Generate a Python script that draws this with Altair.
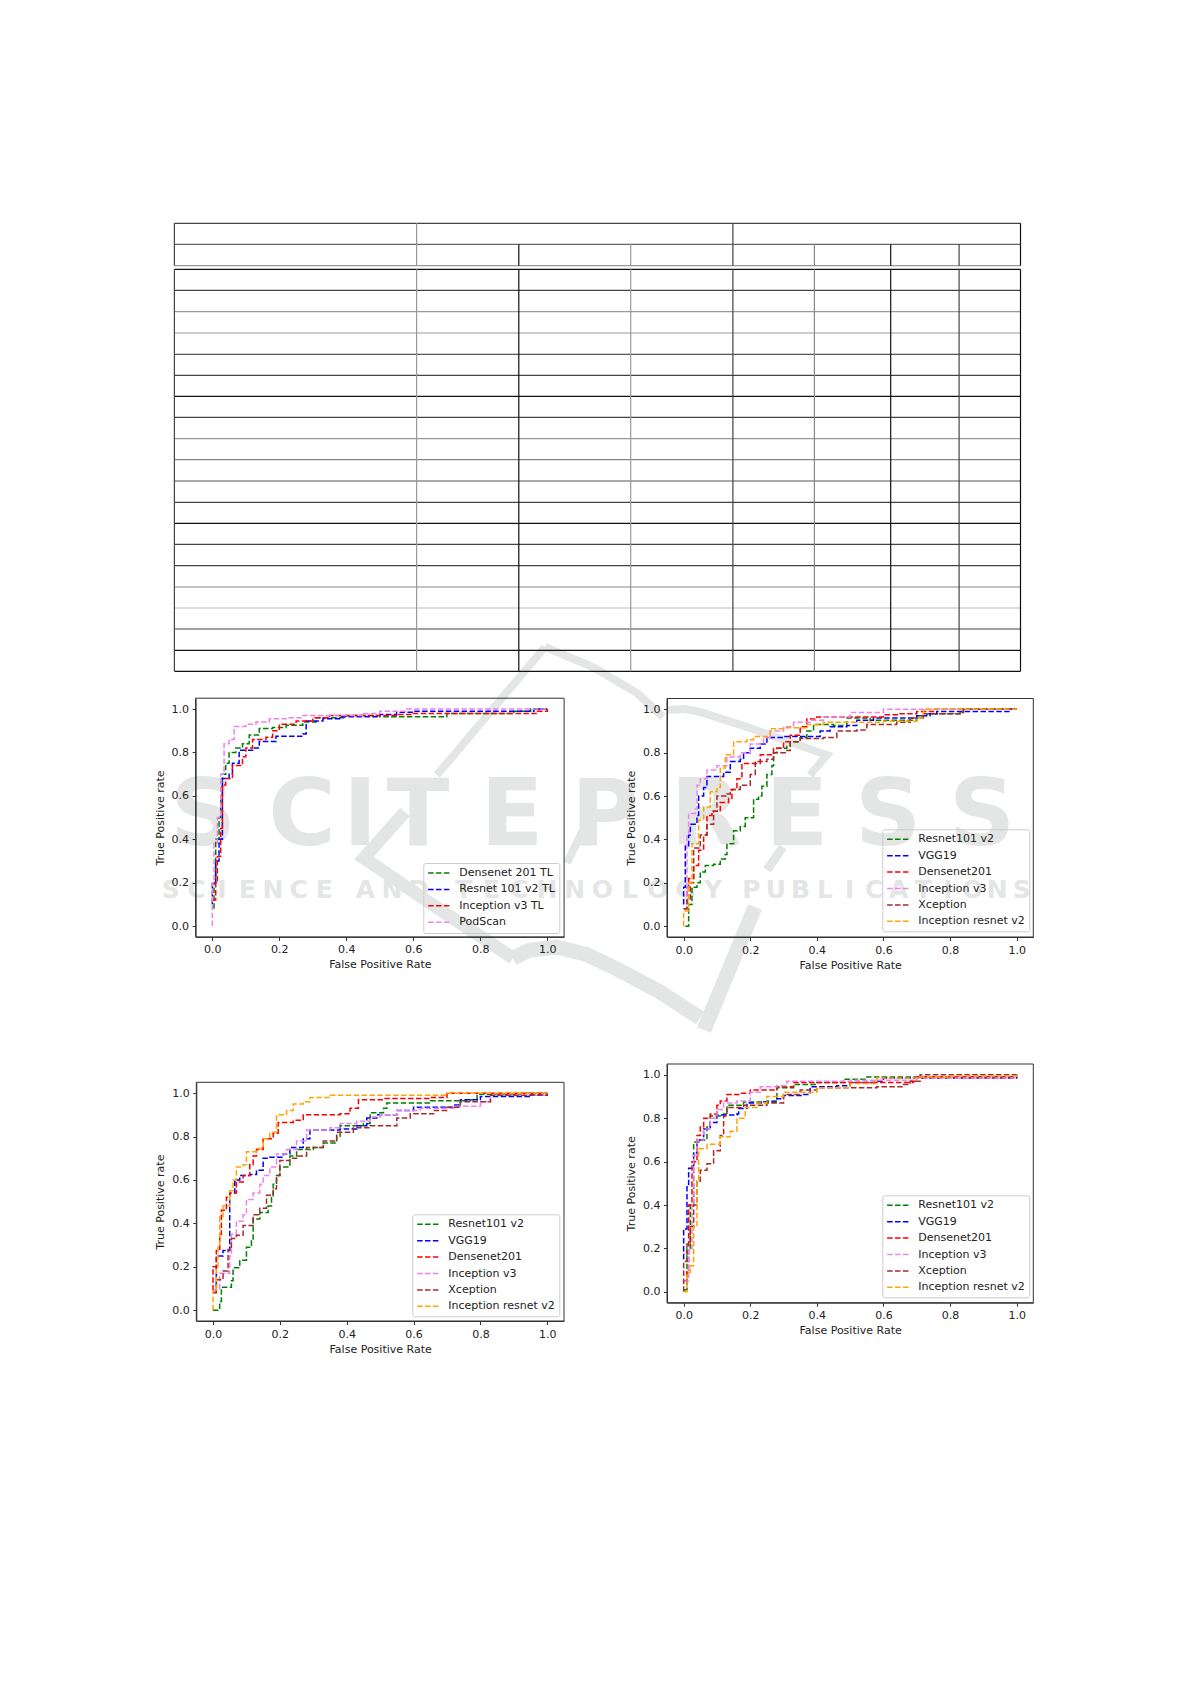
import altair as alt
import pandas as pd

W, H = 1175, 1668
OX, OY = 8, 8

NAMES6 = ["Resnet101 v2", "VGG19", "Densenet201", "Inception v3", "Xception", "Inception resnet v2"]
COLORS6 = ["green", "blue", "red", "violet", "brown", "orange"]
NAMES4 = ["Densenet 201 TL", "Resnet 101 v2 TL", "Inception v3 TL", "PodScan"]
COLORS4 = ["green", "blue", "red", "violet"]
TICKS = [0.0, 0.2, 0.4, 0.6, 0.8, 1.0]

P1 = [
 [(0.005,0.08),(0.005,0.2),(0.01,0.4),(0.02,0.5),(0.025,0.6),(0.03,0.7),(0.04,0.75),(0.05,0.8),(0.07,0.82),(0.09,0.84),(0.11,0.88),(0.14,0.91),(0.18,0.915),(0.22,0.925),(0.27,0.94),(0.31,0.96),(0.4,0.97),(0.5,0.965),(0.69,0.965),(0.7,0.98),(0.9,0.99),(0.95,1.0),(1,1)],
 [(0,0.1),(0.0,0.2),(0.01,0.3),(0.02,0.4),(0.03,0.45),(0.03,0.68),(0.05,0.7),(0.06,0.75),(0.08,0.81),(0.12,0.82),(0.14,0.85),(0.19,0.875),(0.27,0.885),(0.28,0.945),(0.33,0.955),(0.38,0.965),(0.5,0.975),(0.55,0.985),(0.6,0.99),(0.95,0.99),(0.96,1),(1,1)],
 [(0,0.12),(0.01,0.2),(0.015,0.32),(0.025,0.45),(0.03,0.65),(0.04,0.68),(0.06,0.74),(0.09,0.78),(0.1,0.82),(0.12,0.86),(0.16,0.87),(0.18,0.9),(0.2,0.93),(0.25,0.945),(0.3,0.96),(0.35,0.97),(0.55,0.975),(0.6,0.98),(0.95,0.98),(0.97,0.99),(1,1)],
 [(0,0),(0,0.2),(0.005,0.38),(0.015,0.5),(0.025,0.7),(0.035,0.84),(0.05,0.86),(0.065,0.92),(0.1,0.93),(0.13,0.94),(0.17,0.955),(0.22,0.96),(0.27,0.97),(0.35,0.97),(0.45,0.98),(0.5,0.99),(0.58,1.0),(1,1)],
]
P2 = [
 [(0.005,0),(0.015,0.1),(0.025,0.18),(0.04,0.2),(0.05,0.25),(0.065,0.28),(0.09,0.285),(0.11,0.31),(0.125,0.33),(0.13,0.38),(0.15,0.41),(0.15,0.44),(0.17,0.46),(0.185,0.5),(0.21,0.52),(0.21,0.585),(0.225,0.6),(0.235,0.645),(0.25,0.7),(0.265,0.74),(0.27,0.8),(0.28,0.82),(0.31,0.83),(0.32,0.85),(0.35,0.87),(0.37,0.9),(0.39,0.93),(0.45,0.925),(0.49,0.96),(0.56,0.95),(0.63,0.95),(0.7,0.97),(0.73,0.98),(0.83,0.985),(0.84,1),(1,1)],
 [(0,0.1),(0.0,0.18),(0.005,0.37),(0.015,0.42),(0.02,0.47),(0.04,0.51),(0.045,0.6),(0.06,0.64),(0.07,0.69),(0.1,0.69),(0.12,0.71),(0.14,0.76),(0.17,0.77),(0.18,0.8),(0.2,0.82),(0.23,0.84),(0.25,0.87),(0.3,0.875),(0.39,0.875),(0.41,0.9),(0.44,0.92),(0.49,0.925),(0.52,0.95),(0.57,0.96),(0.7,0.97),(0.74,0.98),(0.76,0.99),(0.97,0.99),(0.98,1),(1,1)],
 [(0,0.08),(0.01,0.18),(0.015,0.22),(0.03,0.28),(0.045,0.35),(0.06,0.42),(0.07,0.51),(0.085,0.53),(0.11,0.57),(0.135,0.59),(0.145,0.63),(0.16,0.68),(0.175,0.75),(0.21,0.75),(0.23,0.79),(0.27,0.82),(0.3,0.85),(0.32,0.88),(0.35,0.92),(0.37,0.955),(0.4,0.965),(0.5,0.965),(0.6,0.975),(0.65,0.98),(0.7,0.99),(0.75,1),(1,1)],
 [(0,0.08),(0.01,0.42),(0.015,0.52),(0.035,0.54),(0.04,0.65),(0.05,0.68),(0.07,0.72),(0.1,0.74),(0.13,0.78),(0.17,0.8),(0.2,0.84),(0.24,0.87),(0.26,0.9),(0.3,0.92),(0.33,0.94),(0.38,0.95),(0.42,0.965),(0.5,0.985),(0.6,1.0),(1,1)],
 [(0,0.08),(0.01,0.12),(0.02,0.2),(0.03,0.36),(0.05,0.42),(0.07,0.47),(0.09,0.53),(0.1,0.6),(0.13,0.61),(0.14,0.63),(0.17,0.65),(0.2,0.7),(0.215,0.76),(0.25,0.77),(0.27,0.8),(0.31,0.81),(0.32,0.85),(0.35,0.865),(0.42,0.87),(0.46,0.9),(0.52,0.905),(0.55,0.93),(0.64,0.94),(0.68,0.96),(0.72,0.98),(0.83,0.985),(0.84,1),(1,1)],
 [(0,0),(0,0.07),(0.015,0.2),(0.025,0.38),(0.045,0.49),(0.06,0.55),(0.08,0.62),(0.1,0.64),(0.11,0.73),(0.125,0.79),(0.15,0.85),(0.19,0.86),(0.21,0.875),(0.26,0.91),(0.3,0.915),(0.37,0.93),(0.42,0.94),(0.5,0.94),(0.6,0.945),(0.7,0.96),(0.72,1.0),(1,1)],
]
P3 = [
 [(0,0),(0.02,0.04),(0.025,0.105),(0.055,0.135),(0.06,0.195),(0.08,0.23),(0.1,0.29),(0.115,0.32),(0.12,0.42),(0.14,0.45),(0.165,0.48),(0.175,0.52),(0.18,0.58),(0.19,0.62),(0.2,0.66),(0.23,0.71),(0.25,0.74),(0.3,0.75),(0.33,0.77),(0.37,0.8),(0.38,0.85),(0.45,0.86),(0.47,0.91),(0.51,0.93),(0.52,0.955),(0.65,0.965),(0.77,0.97),(0.79,0.995),(0.9,0.995),(0.92,1),(1,1)],
 [(0,0.09),(0.01,0.25),(0.03,0.275),(0.05,0.33),(0.05,0.54),(0.065,0.6),(0.08,0.62),(0.11,0.625),(0.13,0.645),(0.15,0.7),(0.17,0.705),(0.21,0.72),(0.23,0.75),(0.27,0.79),(0.29,0.83),(0.38,0.835),(0.43,0.85),(0.46,0.885),(0.49,0.9),(0.55,0.92),(0.6,0.935),(0.72,0.945),(0.74,0.97),(0.8,0.985),(0.9,0.985),(0.95,0.995),(1,0.995)],
 [(0,0.09),(0,0.2),(0.01,0.275),(0.02,0.35),(0.025,0.46),(0.04,0.52),(0.05,0.54),(0.07,0.59),(0.09,0.62),(0.11,0.67),(0.12,0.71),(0.13,0.74),(0.15,0.79),(0.18,0.815),(0.195,0.865),(0.24,0.875),(0.27,0.9),(0.38,0.905),(0.41,0.93),(0.435,0.97),(0.51,0.975),(0.65,0.98),(0.7,1.0),(1,1)],
 [(0,0.09),(0.01,0.1),(0.02,0.17),(0.05,0.25),(0.055,0.35),(0.07,0.41),(0.09,0.44),(0.1,0.51),(0.12,0.54),(0.14,0.58),(0.15,0.62),(0.17,0.66),(0.19,0.72),(0.22,0.74),(0.25,0.78),(0.28,0.83),(0.35,0.84),(0.38,0.86),(0.43,0.87),(0.47,0.89),(0.5,0.9),(0.55,0.92),(0.62,0.93),(0.72,0.94),(0.78,0.94),(0.8,0.96),(0.83,0.99),(1,1)],
 [(0,0.08),(0.01,0.14),(0.03,0.18),(0.045,0.28),(0.055,0.33),(0.07,0.345),(0.09,0.39),(0.12,0.44),(0.14,0.47),(0.16,0.53),(0.18,0.56),(0.19,0.62),(0.2,0.69),(0.23,0.7),(0.25,0.71),(0.28,0.75),(0.33,0.78),(0.37,0.82),(0.42,0.84),(0.47,0.85),(0.54,0.85),(0.55,0.885),(0.59,0.905),(0.66,0.92),(0.7,0.935),(0.74,0.96),(0.83,0.99),(1,1)],
 [(0,0),(0.0,0.09),(0.01,0.2),(0.015,0.3),(0.02,0.43),(0.03,0.48),(0.05,0.55),(0.06,0.6),(0.07,0.66),(0.09,0.67),(0.1,0.73),(0.13,0.745),(0.15,0.79),(0.17,0.82),(0.19,0.9),(0.22,0.92),(0.24,0.95),(0.27,0.96),(0.29,0.98),(0.35,0.99),(0.68,0.99),(0.7,1.0),(1,1)],
]
P4 = [
 [(0,0.01),(0.01,0.2),(0.02,0.4),(0.03,0.69),(0.05,0.7),(0.07,0.76),(0.08,0.81),(0.12,0.82),(0.13,0.86),(0.18,0.875),(0.22,0.875),(0.25,0.88),(0.28,0.94),(0.33,0.955),(0.4,0.965),(0.48,0.98),(0.55,0.99),(0.6,0.99),(0.7,0.99),(1,1)],
 [(0,0.15),(0,0.29),(0.01,0.49),(0.015,0.57),(0.03,0.64),(0.04,0.7),(0.06,0.75),(0.08,0.78),(0.1,0.815),(0.16,0.82),(0.165,0.845),(0.19,0.87),(0.24,0.875),(0.28,0.89),(0.3,0.905),(0.36,0.91),(0.38,0.945),(0.46,0.95),(0.5,0.965),(0.58,0.97),(0.6,0.985),(1,0.99)],
 [(0,0.05),(0.01,0.1),(0.015,0.4),(0.025,0.6),(0.04,0.72),(0.05,0.76),(0.06,0.8),(0.08,0.82),(0.1,0.86),(0.11,0.88),(0.13,0.91),(0.17,0.915),(0.2,0.93),(0.28,0.945),(0.33,0.965),(0.5,0.965),(0.69,0.97),(0.7,0.99),(0.95,0.99),(1,1)],
 [(0,0.05),(0.015,0.2),(0.025,0.4),(0.03,0.63),(0.04,0.7),(0.06,0.75),(0.08,0.8),(0.1,0.84),(0.12,0.87),(0.16,0.88),(0.2,0.92),(0.23,0.945),(0.28,0.95),(0.31,0.97),(0.5,0.975),(0.7,0.985),(0.95,0.985),(1,1)],
 [(0,0),(0,0.14),(0.01,0.22),(0.02,0.3),(0.03,0.4),(0.04,0.51),(0.05,0.56),(0.07,0.59),(0.09,0.65),(0.11,0.72),(0.12,0.81),(0.13,0.85),(0.18,0.86),(0.25,0.87),(0.3,0.91),(0.35,0.93),(0.4,0.94),(0.58,0.945),(0.66,0.955),(0.68,0.97),(0.71,1.0),(1,1)],
 [(0,0),(0.01,0.09),(0.02,0.12),(0.03,0.3),(0.04,0.51),(0.045,0.66),(0.07,0.68),(0.11,0.715),(0.14,0.74),(0.16,0.8),(0.185,0.85),(0.22,0.87),(0.25,0.9),(0.3,0.92),(0.4,0.94),(0.5,0.96),(0.58,0.985),(0.7,0.99),(0.8,0.995),(1,1)],
]

# page-pixel boxes of the plot areas: left, right, top, bottom, legend x, legend y
BOXES = [
 (195.6, 564.1, 698.2, 936.9, 423.3, 863.0),
 (667.0, 1033.3, 698.5, 937.0, 882.3, 829.3),
 (196.3, 564.0, 1082.3, 1321.0, 412.3, 1214.3),
 (667.0, 1033.3, 1064.0, 1302.7, 882.3, 1195.3),
]

# table rules
TABLE_X = [174.4, 416.6, 518.8, 630.7, 732.9, 814.4, 890.7, 959.1, 1020.5]
TABLE_X_SHADE = ["#444", "#999", "#111", "#999", "#444", "#888", "#111", "#444", "#111"]
TABLE_Y = [223.3, 244.3, 265.7, 269.3, 290.3, 311.7, 333.0, 354.3, 375.3, 396.3, 417.3, 438.7, 459.7, 481.0, 502.3, 523.3, 544.3, 565.7, 587.0, 608.0, 629.0, 650.3, 671.3]
TABLE_Y_SHADE = ["#444", "#666", "#999", "#111", "#444", "#999", "#999", "#555", "#444", "#111", "#444", "#999", "#888", "#555", "#444", "#111", "#444", "#444", "#888", "#bbb", "#444", "#111", "#111"]

# watermark
WM_COLOR = "#e4e6e5"
WM_LETTERS = list("SCITEPRESS")
WM_CENTERS = [203, 302, 360, 418, 512, 605, 706, 797, 888, 982]
WM_WORDS = [("SCIENCE", 158, 337), ("AND", 352, 432), ("TECHNOLOGY", 450, 727), ("PUBLICATIONS", 739, 1034)]
WM_BANDS = [
 (8, [(545,647),(437,775)]),
 (8, [(545,647),(593,667),(637,693),(663,717)]),
 (8, [(667,710),(685,709),(700,712),(747,727),(827,755),(810,775)]),
 (13, [(405,812),(364,858),(433,905),(513,958)]),
 (15, [(513,958),(530,950),(557,947),(585,954),(613,967),(660,992),(700,1018)]),
 (15, [(704,1030),(755,907)]),
 (9, [(767,870),(783,847)]),
 (8, [(567,863),(583,830)]),
]

def px_x(f, **kw):
    return alt.X(f, type="quantitative", scale=alt.Scale(domain=[0, W], range=[0, W], nice=False, zero=False), axis=None, **kw)

def px_y(f, **kw):
    return alt.Y(f, type="quantitative", scale=alt.Scale(domain=[0, H], range=[0, H], nice=False, zero=False), axis=None, **kw)

layers = []

# watermark text
df = pd.DataFrame({"t": WM_LETTERS, "x": [c - OX for c in WM_CENTERS], "y": [845 - OY] * len(WM_LETTERS)})
layers.append(alt.Chart(df).mark_text(font="DejaVu Sans", fontWeight="bold", fontSize=92, color=WM_COLOR, align="center", baseline="alphabetic")
              .encode(x=px_x("x"), y=px_y("y"), text="t:N"))
rows = []
for word, a, b in WM_WORDS:
    for i, ch in enumerate(word):
        rows.append({"t": ch, "x": a + (b - a) * (i + 0.5) / len(word) - OX, "y": 898 - OY})
layers.append(alt.Chart(pd.DataFrame(rows)).mark_text(font="DejaVu Sans", fontWeight="bold", fontSize=25, color=WM_COLOR, align="center", baseline="alphabetic")
              .encode(x=px_x("x"), y=px_y("y"), text="t:N"))
rows = []
for b, (w, pts) in enumerate(WM_BANDS):
    for i, (x, y) in enumerate(pts):
        rows.append({"b": b, "i": i, "w": w, "x": x - OX, "y": y - OY})
layers.append(alt.Chart(pd.DataFrame(rows)).mark_line(color=WM_COLOR)
              .encode(x=px_x("x"), y=px_y("y"), detail="b:N", order="i:Q", strokeWidth=alt.StrokeWidth("w:Q", scale=None)))

# table
h = pd.DataFrame({"y": [v - OY for v in TABLE_Y], "x": TABLE_X[0] - OX, "x2": TABLE_X[-1] - OX, "c": TABLE_Y_SHADE})
layers.append(alt.Chart(h).mark_rule(strokeWidth=1.2)
              .encode(x=px_x("x"), x2="x2:Q", y=px_y("y"), color=alt.Color("c:N", scale=None)))
rows = []
for x, c in zip(TABLE_X, TABLE_X_SHADE):
    spanning = x in (TABLE_X[0], TABLE_X[1], TABLE_X[4], TABLE_X[8])
    rows.append({"x": x - OX, "y": (TABLE_Y[0] if spanning else TABLE_Y[1]) - OY, "y2": TABLE_Y[2] - OY, "c": c})
    rows.append({"x": x - OX, "y": TABLE_Y[3] - OY, "y2": TABLE_Y[-1] - OY, "c": c})
layers.append(alt.Chart(pd.DataFrame(rows)).mark_rule(strokeWidth=1.2)
              .encode(x=px_x("x"), y=px_y("y"), y2="y2:Q", color=alt.Color("c:N", scale=None)))

# panel frames
fr = pd.DataFrame([{"x": b[0] - OX, "x2": b[1] - OX, "y": b[2] - OY, "y2": b[3] - OY} for b in BOXES])
layers.append(alt.Chart(fr).mark_rect(fillOpacity=0, stroke="#333", strokeWidth=1)
              .encode(x=px_x("x"), x2="x2:Q", y=px_y("y"), y2="y2:Q"))

def panel(curves, names, colors, box):
    l, r, t, b, lx, ly = box
    rows = []
    for name, pts in zip(names, curves):
        for i, (x, y) in enumerate(pts):
            rows.append({"series": name, "i": i, "x": x, "y": y})
    axis_common = dict(grid=False, values=TICKS, format=".1f", labelFont="DejaVu Sans", labelFontSize=11,
                       labelColor="#222", titleFont="DejaVu Sans", titleFontSize=11, titleFontWeight="normal",
                       titleColor="#222", tickColor="#333", tickSize=3.5, domainColor="#333", labelPadding=3.5,
                       labelFlush=False, labelOverlap=False, zindex=1)
    return alt.Chart(pd.DataFrame(rows)).mark_line(interpolate="step-after", strokeDash=[5.5, 2.4], strokeWidth=1.5).encode(
        x=alt.X("x:Q", title="False Positive Rate",
                scale=alt.Scale(domain=[-0.05, 1.05], range=[l - OX, r - OX], nice=False, zero=False),
                axis=alt.Axis(orient="bottom", offset=b - OY - H, titlePadding=4, **axis_common)),
        y=alt.Y("y:Q", title="True Positive rate",
                scale=alt.Scale(domain=[-0.05, 1.05], range=[b - OY, t - OY], nice=False, zero=False),
                axis=alt.Axis(orient="left", offset=-(l - OX), titlePadding=6, **axis_common)),
        order="i:Q",
        color=alt.Color("series:N", scale=alt.Scale(domain=names, range=colors),
                        legend=alt.Legend(title=None, orient="none", legendX=lx - OX, legendY=ly - OY,
                                          symbolType="stroke", symbolSize=500, symbolDash=[5.5, 2.4], symbolStrokeWidth=1.5,
                                          clipHeight=12, rowPadding=4.4, labelOffset=8, labelFont="DejaVu Sans",
                                          labelFontSize=11, labelColor="#222", padding=4,
                                          strokeColor="#ccc", cornerRadius=2)),
    )

layers.append(panel(P1, NAMES4, COLORS4, BOXES[0]))
layers.append(panel(P2, NAMES6, COLORS6, BOXES[1]))
layers.append(panel(P3, NAMES6, COLORS6, BOXES[2]))
layers.append(panel(P4, NAMES6, COLORS6, BOXES[3]))

chart = alt.layer(*layers).resolve_scale(
    x="independent", y="independent", color="independent").properties(
    width=W, height=H, padding=0, background="white",
    autosize=alt.AutoSizeParams(type="none", contains="padding")
).configure_view(stroke=None)

chart.save("out.html", embed_options={"renderer": "svg", "actions": False})
